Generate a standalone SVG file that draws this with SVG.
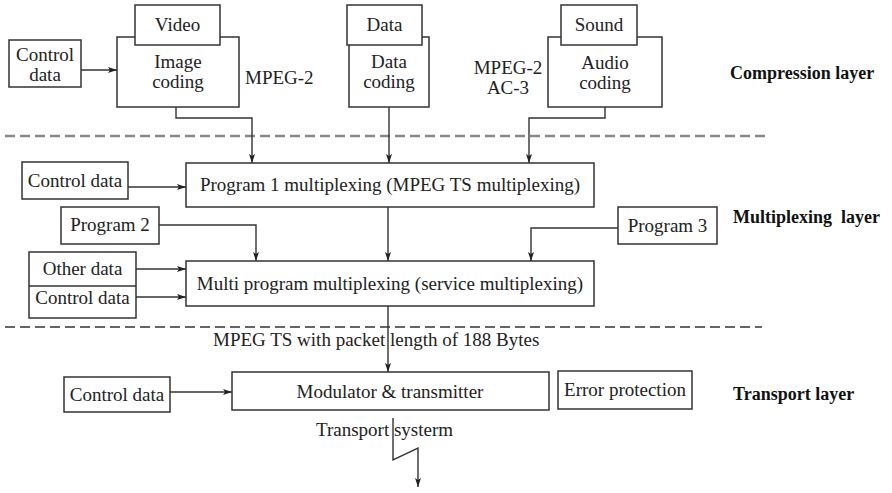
<svg xmlns="http://www.w3.org/2000/svg" width="892" height="493" viewBox="0 0 892 493">
<defs>
<style>
.box{fill:#fff;stroke:#333;stroke-width:1.5}
.t{font-family:"Liberation Serif","Times New Roman",serif;font-size:19px;fill:#222;text-anchor:middle}
.ts{font-family:"Liberation Serif","Times New Roman",serif;font-size:19px;fill:#222}
.b{font-family:"Liberation Serif","Times New Roman",serif;font-size:18px;font-weight:bold;fill:#111}
.c{fill:none;stroke:#333;stroke-width:1.4}
</style>
<marker id="ah" markerWidth="9" markerHeight="6" refX="9" refY="3" orient="auto" markerUnits="userSpaceOnUse">
<path d="M0,0 L9,3 L0,6 L2,3 z" fill="#222"/>
</marker>
</defs>
<rect width="892" height="493" fill="#fff"/>

<g id="layers">
<line x1="5" y1="136" x2="767" y2="136" stroke="#888" stroke-width="2.5" stroke-dasharray="10 5"/>
<line x1="5" y1="327" x2="762" y2="327" stroke="#333" stroke-width="1.3" stroke-dasharray="10 5"/>
<text class="b" x="730" y="79">Compression layer</text>
<text class="b" x="733" y="223" xml:space="preserve">Multiplexing  layer</text>
<text class="b" x="733" y="400">Transport layer</text>
</g>

<g id="connectors">
<path class="c" d="M81,70 H117" marker-end="url(#ah)"/>
<path class="c" d="M176,107 V118 H252 V163" marker-end="url(#ah)"/>
<path class="c" d="M389,107 V163" marker-end="url(#ah)"/>
<path class="c" d="M605,107 V118 H529 V163" marker-end="url(#ah)"/>
<path class="c" d="M128,187 H186" marker-end="url(#ah)"/>
<path class="c" d="M159,225 H256 V261" marker-end="url(#ah)"/>
<path class="c" d="M388,207 V261" marker-end="url(#ah)"/>
<path class="c" d="M618,228 H531 V261" marker-end="url(#ah)"/>
<path class="c" d="M136,269 H186" marker-end="url(#ah)"/>
<path class="c" d="M136,297 H186" marker-end="url(#ah)"/>
<path class="c" d="M388,306 V372" marker-end="url(#ah)"/>
<path class="c" d="M170,392 H232" marker-end="url(#ah)"/>
<path class="c" d="M393,418 V460 L418,448 V487" marker-end="url(#ah)"/>
</g>

<g id="ctrl1">
<rect class="box" x="9" y="40" width="72" height="47"/>
<text class="t" x="45" y="61">Control</text>
<text class="t" x="45" y="81">data</text>
</g>
<g id="image-coding">
<rect class="box" x="117" y="37" width="122" height="70"/>
<text class="t" x="178" y="68">Image</text>
<text class="t" x="178" y="88">coding</text>
</g>
<g id="video">
<rect class="box" x="135" y="5" width="85" height="40"/>
<text class="t" x="177.5" y="31">Video</text>
</g>
<g id="mpeg2">
<text class="ts" x="245" y="84">MPEG-2</text>
</g>
<g id="data-coding">
<rect class="box" x="349" y="37" width="80" height="70"/>
<text class="t" x="389" y="68">Data</text>
<text class="t" x="389" y="88">coding</text>
</g>
<g id="data">
<rect class="box" x="347" y="5" width="75" height="40"/>
<text class="t" x="384.5" y="31">Data</text>
</g>
<g id="mpeg2-ac3">
<text class="t" x="508" y="74">MPEG-2</text>
<text class="t" x="508" y="94">AC-3</text>
</g>
<g id="audio-coding">
<rect class="box" x="548" y="37" width="114" height="70"/>
<text class="t" x="605" y="69">Audio</text>
<text class="t" x="605" y="89">coding</text>
</g>
<g id="sound">
<rect class="box" x="561" y="5" width="76" height="40"/>
<text class="t" x="599" y="31">Sound</text>
</g>

<g id="ctrl2">
<rect class="box" x="22" y="162" width="106" height="37"/>
<text class="t" x="75" y="187">Control data</text>
</g>
<g id="prog1">
<rect class="box" x="186" y="163" width="408" height="44"/>
<text class="t" x="390" y="191">Program 1 multiplexing (MPEG TS multiplexing)</text>
</g>
<g id="prog2">
<rect class="box" x="61" y="207" width="98" height="37"/>
<text class="t" x="110" y="231">Program 2</text>
</g>
<g id="prog3">
<rect class="box" x="618" y="207" width="99" height="37"/>
<text class="t" x="667.5" y="232">Program 3</text>
</g>
<g id="other-ctrl">
<rect class="box" x="29" y="252" width="107" height="66"/>
<line x1="29" y1="286" x2="136" y2="286" stroke="#333" stroke-width="1.5"/>
<text class="t" x="82.5" y="275">Other data</text>
<text class="t" x="82.5" y="304">Control data</text>
</g>
<g id="multi">
<rect class="box" x="186" y="261" width="408" height="45"/>
<text class="t" x="390" y="290">Multi program multiplexing (service multiplexing)</text>
</g>

<g id="ts-label">
<text class="ts" x="213" y="346">MPEG TS with packet length of 188 Bytes</text>
</g>
<g id="ctrl3">
<rect class="box" x="64" y="377" width="106" height="35"/>
<text class="t" x="117" y="401">Control data</text>
</g>
<g id="modulator">
<rect class="box" x="232" y="372" width="317" height="38"/>
<text class="t" x="390" y="398">Modulator &amp; transmitter</text>
</g>
<g id="error">
<rect class="box" x="558" y="371" width="134" height="38"/>
<text class="t" x="625" y="396">Error protection</text>
</g>
<g id="transport-label">
<text class="ts" x="316" y="436">Transport systerm</text>
</g>
</svg>
